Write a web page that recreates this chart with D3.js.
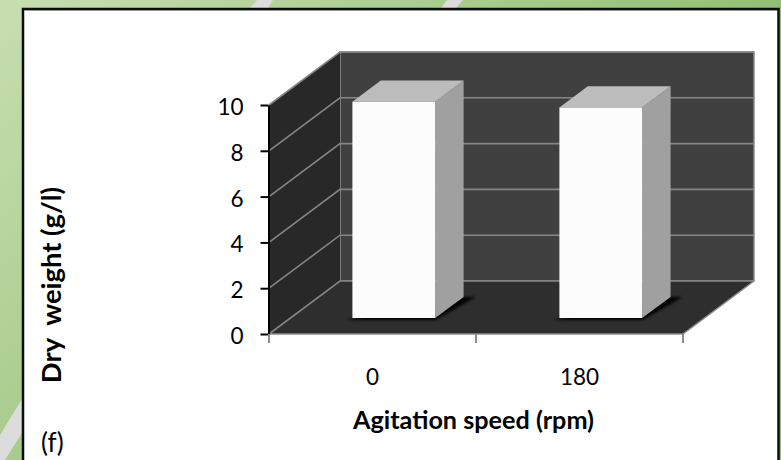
<!DOCTYPE html>
<html>
<head>
<meta charset="utf-8">
<script src="https://cdn.jsdelivr.net/npm/d3@7"></script>
<style>
  html, body { margin: 0; padding: 0; background: #fff; }
  svg { display: block; }
  text { font-family: Lato, "Open Sans", sans-serif; fill: #000; white-space: pre; }
</style>
</head>
<body>
<div id="chart"></div>
<script>
// Chart data
const categories = ["0", "180"];
const dryWeight = [9.45, 9.2];
const yTicks = [0, 2, 4, 6, 8, 10];

const width = 781;
const height = 460;

// Front plane of the 3D box
const x = d3.scaleBand()
    .domain(categories)
    .range([269, 683])
    .paddingInner(0.6)
    .paddingOuter(0.3);

const y = d3.scaleLinear()
    .domain([0, 10])
    .range([334, 105]);

// Depth offset of the box, t goes from 0 (front) to 1 (back wall)
const depthX = d3.scaleLinear().domain([0, 1]).range([0, 71]);
const depthY = d3.scaleLinear().domain([0, 1]).range([0, -53]);
const barFront = 0.3;
const barBack = 0.7;

const svg = d3.select("#chart")
    .append("svg")
    .attr("width", width)
    .attr("height", height);

const defs = svg.append("defs");

const bg = defs.append("linearGradient")
    .attr("id", "bg")
    .attr("gradientUnits", "userSpaceOnUse")
    .attr("x1", 0).attr("y1", 0)
    .attr("x2", 780).attr("y2", 780);
bg.append("stop").attr("offset", "0%").attr("stop-color", "#c8deb0");
bg.append("stop").attr("offset", "50%").attr("stop-color", "#92c074");
bg.append("stop").attr("offset", "100%").attr("stop-color", "#92c074");

defs.append("filter")
    .attr("id", "soft")
    .attr("x", "-20%").attr("y", "-50%")
    .attr("width", "140%").attr("height", "200%")
    .append("feGaussianBlur")
    .attr("stdDeviation", 1.6);

// Slide background with the pale stripes
svg.append("rect")
    .attr("width", width)
    .attr("height", height)
    .attr("fill", "url(#bg)");

const stripes = [
    [[257, 0], [273, 0], [268, 8], [250, 8]],
    [[447, 0], [463, 0], [456, 8], [441, 8]],
    [[0, 435], [22, 399], [22, 433], [5, 460], [0, 460]]
];
svg.selectAll(".stripe")
    .data(stripes)
    .enter()
    .append("polygon")
    .attr("class", "stripe")
    .attr("points", d => d.join(" "))
    .attr("fill", "#dcdcdc");

// White panel with its black frame
svg.append("rect")
    .attr("x", 23)
    .attr("y", 9)
    .attr("width", 755.5)
    .attr("height", 460)
    .attr("fill", "#fff")
    .attr("stroke", "#0c0c0c")
    .attr("stroke-width", 2.5);

svg.append("line")
    .attr("x1", 24).attr("x2", 777)
    .attr("y1", 10.5).attr("y2", 10.5)
    .attr("stroke", "#999");

const pt = (px, py, t) => [px + depthX(t), py + depthY(t)];
const x0 = x.range()[0];
const x1 = x.range()[1];
const yBase = y(0);
const yTop = y(10);

// Walls and floor
svg.append("polygon")
    .attr("points", [pt(x0, yTop, 1), pt(x1, yTop, 1), pt(x1, yBase, 1), pt(x0, yBase, 1)].join(" "))
    .attr("fill", "#404040")
    .attr("stroke", "#8c8c8c")
    .attr("stroke-width", 1.5);

svg.append("polygon")
    .attr("points", [pt(x0, yBase, 0), pt(x0, yTop, 0), pt(x0, yTop, 1), pt(x0, yBase, 1)].join(" "))
    .attr("fill", "#282828");

svg.append("polygon")
    .attr("points", [pt(x0, yBase, 0), pt(x1, yBase, 0), pt(x1, yBase, 1), pt(x0, yBase, 1)].join(" "))
    .attr("fill", "#2e2e2e");

// Grid lines run along the left wall and then the back wall
svg.selectAll(".grid")
    .data(yTicks)
    .enter()
    .append("polyline")
    .attr("class", "grid")
    .attr("points", d => [pt(x0, y(d), 0), pt(x0, y(d), 1), pt(x1, y(d), 1)].join(" "))
    .attr("fill", "none")
    .attr("stroke", "#858585")
    .attr("stroke-width", 1.6);

// Floor edges
svg.append("polyline")
    .attr("points", [pt(x0, yBase, 0), pt(x1, yBase, 0), pt(x1, yBase, 1)].join(" "))
    .attr("fill", "none")
    .attr("stroke", "#8c8c8c")
    .attr("stroke-width", 1.5);

// Bars: shadow, side, top, front
const bars = svg.selectAll(".bar")
    .data(categories.map((c, i) => ({ c: c, v: dryWeight[i] })))
    .enter()
    .append("g")
    .attr("class", "bar");

bars.append("polygon")
    .attr("points", d => {
        const l = x(d.c), r = l + x.bandwidth();
        return [pt(l - 7, yBase + 2, barFront), pt(r, yBase + 2, barFront), pt(r + 12, yBase, barBack), pt(r - 10, yBase, barBack)].join(" ");
    })
    .attr("fill", "#000")
    .attr("filter", "url(#soft)");

bars.append("polygon")
    .attr("points", d => {
        const r = x(d.c) + x.bandwidth();
        return [pt(r, yBase, barFront), pt(r, yBase, barBack), pt(r, y(d.v), barBack), pt(r, y(d.v), barFront)].join(" ");
    })
    .attr("fill", "#a0a0a0");

bars.append("polygon")
    .attr("points", d => {
        const l = x(d.c), r = l + x.bandwidth();
        return [pt(l, y(d.v), barFront), pt(r, y(d.v), barFront), pt(r, y(d.v), barBack), pt(l, y(d.v), barBack)].join(" ");
    })
    .attr("fill", "#bcbcbc");

bars.append("polygon")
    .attr("points", d => {
        const l = x(d.c), r = l + x.bandwidth();
        return [pt(l, yBase, barFront), pt(r, yBase, barFront), pt(r, y(d.v), barFront), pt(l, y(d.v), barFront)].join(" ");
    })
    .attr("fill", "#fcfcfc");

// Y axis
const yAxis = d3.axisLeft(y).tickValues(yTicks).tickSize(8).tickSizeOuter(0).tickPadding(17);
const yG = svg.append("g")
    .attr("transform", `translate(${x0 - 0.5},0)`)
    .call(yAxis);
yG.select(".domain").attr("stroke", "#000").attr("stroke-width", 2);
yG.selectAll("line").attr("stroke", "#000").attr("stroke-width", 2);
yG.selectAll("text")
    .attr("dy", "0.42em")
    .style("font-size", "22.5px")
    .style("font-family", "Lato, sans-serif");

// X axis, ticks sit on the category boundaries
const xTicks = [x0, (x0 + x1) / 2, x1];
svg.selectAll(".x-tick")
    .data(xTicks)
    .enter()
    .append("line")
    .attr("class", "x-tick")
    .attr("x1", d => d).attr("x2", d => d)
    .attr("y1", yBase).attr("y2", yBase + 9)
    .attr("stroke", "#8c8c8c")
    .attr("stroke-width", 2);

svg.selectAll(".x-label")
    .data(categories)
    .enter()
    .append("text")
    .attr("class", "x-label")
    .attr("x", d => x(d) + x.bandwidth() / 2)
    .attr("y", 385)
    .style("font-size", "22.5px")
    .style("text-anchor", "middle")
    .text(d => d);

// Axis titles
svg.append("text")
    .attr("x", 473.5)
    .attr("y", 429)
    .style("font-size", "25.2px")
    .style("font-weight", "bold")
    .style("text-anchor", "middle")
    .text("Agitation speed (rpm)");

svg.append("text")
    .attr("transform", "translate(61,285) rotate(-90)")
    .style("font-size", "27.4px")
    .style("font-weight", "bold")
    .style("text-anchor", "middle")
    .text("Dry  weight (g/l)");

// Panel label
svg.append("text")
    .attr("x", 41)
    .attr("y", 452)
    .style("font-size", "26px")
    .text("(f)");
</script>
</body>
</html>
